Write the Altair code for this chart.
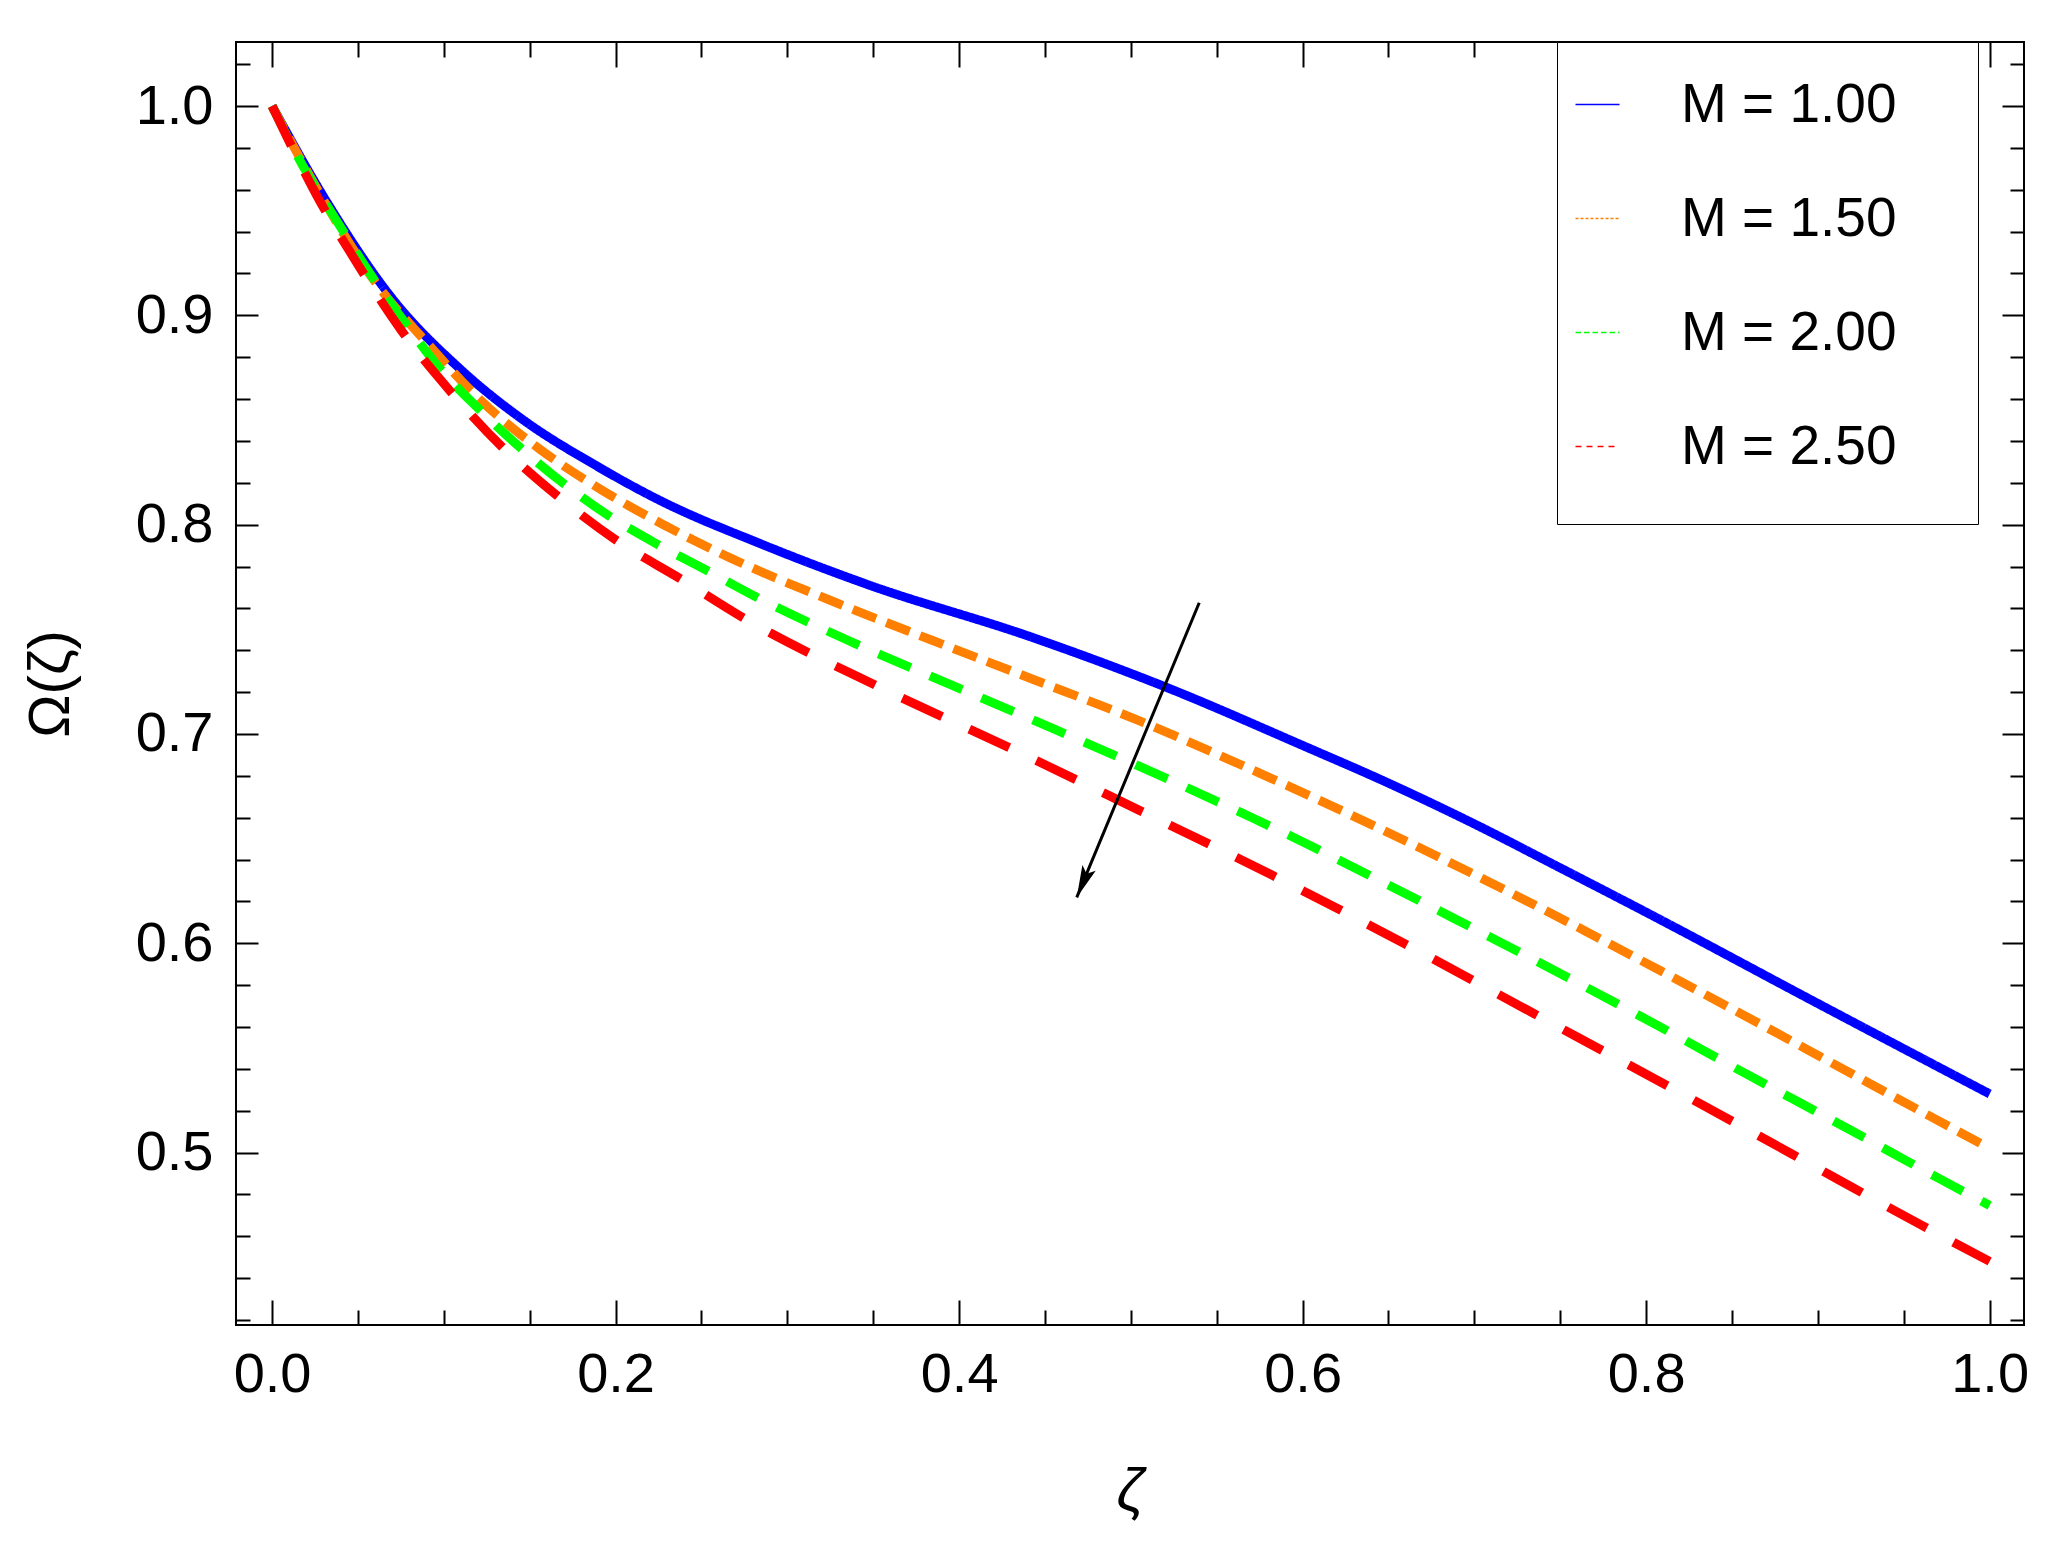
import altair as alt
import pandas as pd

# series labels, colours and dash styles
series = ["M = 1.00", "M = 1.50", "M = 2.00", "M = 2.50"]
colors = ["#0000ff", "#ff8000", "#00ff00", "#ff0000"]
line_dash = [[1, 0], [25, 11], [35, 21], [44, 30]]
legend_dash = [[1, 0], [3, 2], [5.5, 3], [6, 5]]

# curves
zeta_m100 = [0.0, 0.032, 0.070, 0.110, 0.148, 0.187, 0.226, 0.284, 0.346, 0.442,
             0.520, 0.600, 0.650, 0.700, 0.750, 0.800, 0.900, 1.0]
omega_m100 = [1.0, 0.954, 0.908, 0.874, 0.849, 0.829, 0.8115, 0.791, 0.7716, 0.7463,
              0.7225, 0.6945, 0.6765, 0.657, 0.636, 0.6148, 0.5712, 0.528]

zeta_m150 = [0.0, 0.030, 0.060, 0.090, 0.122, 0.156, 0.192, 0.229, 0.267, 0.326,
             0.385, 0.444, 0.504, 0.562, 0.601, 0.641, 0.697, 0.754, 0.811, 0.868,
             0.924, 1.0]
omega_m150 = [1.0, 0.955, 0.916, 0.887, 0.859, 0.836, 0.8165, 0.7995, 0.784, 0.7635,
              0.7445, 0.7258, 0.7066, 0.686, 0.6716, 0.6563, 0.634, 0.6103, 0.5857,
              0.5607, 0.5357, 0.502]

zeta_m200 = [0.0, 0.0175, 0.0388, 0.0572, 0.0766, 0.097, 0.1206, 0.1449, 0.1701,
             0.1969, 0.225, 0.2532, 0.2813, 0.3392, 0.3981, 0.4565, 0.5149, 0.5728,
             0.6017, 0.6298, 0.6878, 0.7444, 0.8013, 0.858, 0.9146, 0.971, 1.0]
omega_m200 = [1.0, 0.972, 0.9436, 0.9197, 0.8974, 0.8752, 0.8551, 0.8365, 0.8194,
              0.8038, 0.7903, 0.7781, 0.7657, 0.7433, 0.7225, 0.7019, 0.6809, 0.6591,
              0.6478, 0.6362, 0.612, 0.5879, 0.5631, 0.5377, 0.5127, 0.4874, 0.4747]

zeta_m250 = [0.0, 0.0262, 0.0498, 0.0751, 0.1032, 0.1338, 0.1672, 0.2017, 0.2376,
             0.2758, 0.3523, 0.4293, 0.5065, 0.583, 0.6589, 0.7346, 0.8097, 0.8851,
             0.9603, 1.0]
omega_m250 = [1.0, 0.957, 0.9245, 0.893, 0.8643, 0.8372, 0.813, 0.7918, 0.7742,
              0.7548, 0.7229, 0.6934, 0.6629, 0.6322, 0.600, 0.5664, 0.5331, 0.4992,
              0.4653, 0.448]

# annotation arrow (tail, tip)
arrow_zeta = [0.5398, 0.4685]
arrow_omega = [0.7627, 0.6219]

x_ticks = [0.0, 0.05, 0.1, 0.15, 0.2, 0.25, 0.3, 0.35, 0.4, 0.45, 0.5,
           0.55, 0.6, 0.65, 0.7, 0.75, 0.8, 0.85, 0.9, 0.95, 1.0]
y_ticks = [0.42, 0.44, 0.46, 0.48, 0.5, 0.52, 0.54, 0.56, 0.58, 0.6, 0.62, 0.64,
           0.66, 0.68, 0.7, 0.72, 0.74, 0.76, 0.78, 0.8, 0.82, 0.84, 0.86, 0.88,
           0.9, 0.92, 0.94, 0.96, 0.98, 1.0, 1.02]

curves = pd.concat([
    pd.DataFrame({"M": name, "zeta": z, "omega": o})
    for name, z, o in zip(series,
                          [zeta_m100, zeta_m150, zeta_m200, zeta_m250],
                          [omega_m100, omega_m150, omega_m200, omega_m250])
], ignore_index=True)
arrow = pd.DataFrame({"zeta": arrow_zeta, "omega": arrow_omega})
tip = arrow.iloc[[1]]

FONT = "Liberation Sans, Arial, sans-serif"

x_scale = alt.Scale(domain=[-0.021, 1.02], nice=False, zero=False)
y_scale = alt.Scale(domain=[0.4176, 1.0306], nice=False, zero=False)

major_x = "abs(datum.value * 5 - round(datum.value * 5)) < 0.001"
major_y = "abs(datum.value * 10 - round(datum.value * 10)) < 0.001"


def x_axis(orient, show_labels):
    if show_labels:
        extra = dict(title="ζ", titleFont=FONT, titleFontSize=60, titleFontStyle="italic",
                     titleFontWeight="normal", titleColor="black", titlePadding=60)
    else:
        extra = dict(title=None)
    return alt.Axis(
        orient=orient, values=x_ticks, labels=show_labels,
        labelExpr=f"{major_x} ? format(datum.value, '.1f') : ''",
        tickSize=25, offset=-25, domain=False, grid=False,
        tickColor="black", tickWidth=2,
        tickDash={"condition": {"test": major_x, "value": [40, 1]},
                  "value": [0, 10, 15, 100]},
        labelFont=FONT, labelFontSize=56, labelColor="black", labelPadding=22,
        labelOverlap=False, labelFlush=False, **extra)


def y_axis(orient, show_labels):
    if show_labels:
        extra = dict(title="Ω(ζ)", titleFont=FONT, titleFontSize=58,
                     titleFontWeight="normal", titleColor="black", titlePadding=55)
    else:
        extra = dict(title=None)
    return alt.Axis(
        orient=orient, values=y_ticks, labels=show_labels,
        labelExpr=f"{major_y} ? format(datum.value, '.1f') : ''",
        tickSize=22, offset=-22, domain=False, grid=False,
        tickColor="black", tickWidth=2,
        tickDash={"condition": {"test": major_y, "value": [40, 1]},
                  "value": [0, 8, 14, 100]},
        labelFont=FONT, labelFontSize=56, labelColor="black", labelPadding=23,
        labelOverlap=False, labelFlush=False, **extra)


lines = alt.Chart(curves).mark_line(strokeWidth=9, interpolate="monotone").encode(
    x=alt.X("zeta:Q", scale=x_scale, axis=x_axis("bottom", True)),
    y=alt.Y("omega:Q", scale=y_scale, axis=y_axis("left", True)),
    color=alt.Color("M:N", scale=alt.Scale(domain=series, range=colors), legend=None),
    strokeDash=alt.StrokeDash("M:N", scale=alt.Scale(domain=series, range=line_dash),
                              legend=None),
)

# trailing no-break spaces widen the legend box; the zero-width space keeps them
# from being trimmed away
pad = "\u00a0" * 3 + "\u200b"
legend = alt.Legend(title="\u00a0", titleOrient="bottom", titleFontSize=8,
                    titlePadding=6, orient="none", legendX=1321, legendY=0,
                    labelExpr=f"datum.label + '{pad}'")

legend_layer = alt.Chart(curves).mark_line(opacity=0).encode(
    x=alt.X("zeta:Q", scale=x_scale, axis=None),
    y=alt.Y("omega:Q", scale=y_scale, axis=None),
    color=alt.Color("M:N", scale=alt.Scale(domain=series, range=colors), legend=legend),
    strokeDash=alt.StrokeDash("M:N", scale=alt.Scale(domain=series, range=legend_dash),
                              legend=legend),
)

arrow_line = alt.Chart(arrow).mark_line(color="black", strokeWidth=3).encode(
    x=alt.X("zeta:Q", scale=x_scale, axis=x_axis("top", False)),
    y=alt.Y("omega:Q", scale=y_scale, axis=y_axis("right", False)),
)

arrow_head = alt.Chart(tip).mark_point(
    shape="M0,0 L-0.45,-2 L0,-1.6 L0.45,-2 Z", filled=True, color="black",
    opacity=1, size=1024, angle=22.6, strokeWidth=0,
).encode(
    x=alt.X("zeta:Q", scale=x_scale, axis=None),
    y=alt.Y("omega:Q", scale=y_scale, axis=None),
)

chart = alt.layer(legend_layer, lines, arrow_line, arrow_head).resolve_scale(
    color="independent", strokeDash="independent"
).resolve_axis(
    x="independent", y="independent"
).properties(
    width=1788, height=1283,
    autosize=alt.AutoSizeParams(type="none"),
    padding={"left": 228, "top": 34, "right": 10, "bottom": 210},
).configure_view(
    stroke="black", strokeWidth=2
).configure_legend(
    padding=35, strokeColor="black", strokeWidth=1, fillColor="white",
    symbolType="stroke", symbolSize=1936, symbolStrokeWidth=1.5, symbolOpacity=1,
    symbolOffset=-22,
    labelFont=FONT, labelFontSize=55, labelColor="black", labelOffset=56,
    labelLimit=0, rowPadding=58,
)

chart.save("out.html", embed_options={"renderer": "svg", "actions": False})
